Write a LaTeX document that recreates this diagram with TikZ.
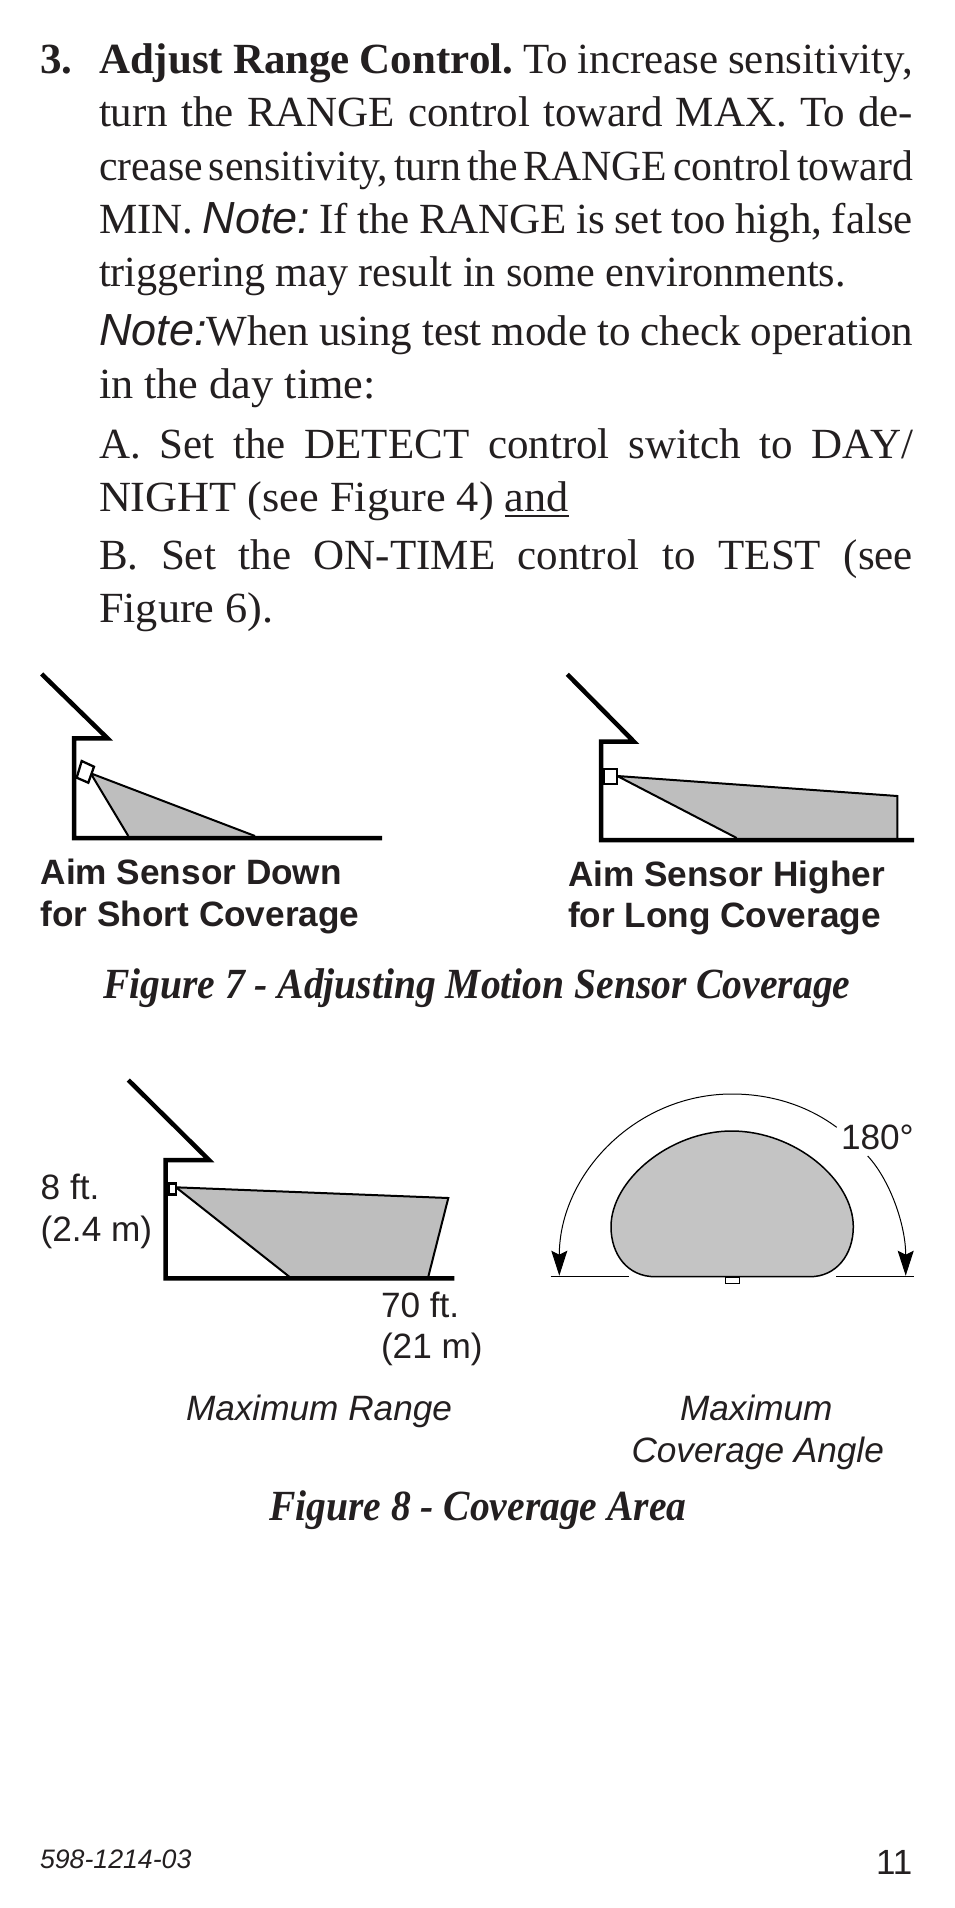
\documentclass[tikz,border=0pt]{standalone}
\usepackage{fontspec}
\setmainfont{Liberation Serif}
\setsansfont{Liberation Sans}
\usetikzlibrary{arrows.meta}
\definecolor{beamgray}{HTML}{BEBEBE}
\definecolor{blobgray}{HTML}{C4C4C4}
\definecolor{ink}{HTML}{231F20}
\newcommand{\bodyfont}{\fontsize{43}{50}\selectfont\frenchspacing}
\newcommand{\sansfont}{\fontsize{35.2}{40}\selectfont\sffamily}
\newcommand{\noteword}{{\sffamily\itshape\fontsize{45}{50}\selectfont Note:}}
\newcommand{\ulword}[1]{\setbox0\hbox{#1}\rlap{\rule[-6pt]{\wd0}{2pt}}#1}
\newcommand{\just}[1]{\makebox[814pt][s]{\spaceskip=.25em plus 1em minus .25em\relax #1}}
\newcommand{\stretched}[1]{\addfontfeature{FakeStretch=#1}}
\tikzset{
  x=1pt,y=-1pt,
  txt/.style={anchor=base west,inner sep=0pt,outer sep=0pt,text=ink},
  body/.style={txt,font=\bodyfont},
  sanslabel/.style={txt,font=\sansfont},
  sansbold/.style={txt,font=\sansfont\bfseries},
  sansital/.style={txt,font=\sansfont\itshape},
  figcap/.style={txt,font=\bodyfont\bfseries\itshape\stretched{.92}},
  wall/.style={line width=4.5pt,miter limit=10,draw=black},
  sensor/.style={line width=2.3pt,draw=black,fill=white},
  thinline/.style={line width=1pt,draw=black},
  bigtip/.style={-{Stealth[length=25pt,width=16pt,inset=4pt]}}
}
\begin{document}
\begin{tikzpicture}
\useasboundingbox (0,0) rectangle (954,1908);
\fill[white] (0,0) rectangle (954,1908);
% body text
\node[body,font=\bodyfont\bfseries] (n3) at (40,74) {3.};
\node[body] (l1) at (99,74) {\just{\textbf{Adjust Range Control.} To increase sensitivity,}};
\node[body] (l2) at (99,127) {\just{turn the RANGE control toward MAX. To de-}};
\node[body] (l3) at (99,180) {\stretched{.97}\just{crease sensitivity, turn the RANGE control toward}};
\node[body] (l4) at (99,233) {\just{MIN. \noteword{} If the RANGE is set too high, false}};
\node[body] (l5) at (99,286) {\stretched{.98}triggering may result in some environments.};
\node[body] (l6) at (99,345) {\just{\noteword{}When using test mode to check operation}};
\node[body] (l7) at (99,398) {\stretched{1.03}in the day time:};
\node[body] (l8) at (99,458) {\just{A. Set the DETECT control switch to DAY/}};
\node[body] (l9) at (99,511) {\stretched{1.03}NIGHT (see Figure 4) \ulword{and}};
\node[body] (l10) at (99,569) {\just{B. Set the ON-TIME control to TEST (see}};
\node[body] (l11) at (99,622) {\stretched{1.03}Figure 6).};
% Figure 7 left
\fill[beamgray] (90.7,773.3) -- (128.3,836) -- (255,836) -- cycle;
\draw[line width=2pt] (128.3,836) -- (90.7,773.3) -- (255,836);
\draw[wall] (41.7,674) -- (107.5,738.3) -- (74,738.3) -- (74,838) -- (382,838);
\draw[sensor] (81.7,761) -- (94,766.7) -- (88.3,782.7) -- (76.7,777.7) -- cycle;
\node[sansbold] (a1) at (40.7,884) {Aim Sensor Down};
\node[sansbold] (a2) at (40.7,926) {for Short Coverage};
% Figure 7 right
\fill[beamgray] (617.3,776) -- (897.3,796) -- (897.3,838) -- (736.7,838) -- cycle;
\draw[line width=2pt] (736.7,838) -- (617.3,776) -- (897.3,796) -- (897.3,840);
\draw[wall] (567.3,674.3) -- (634,741.7) -- (601,741.7) -- (601,840) -- (914,840);
\draw[sensor] (604.3,768.7) rectangle (616.7,784.3);
\node[sansbold] (b1) at (568,886.7) {Aim Sensor Higher};
\node[sansbold] (b2) at (568,927.7) {for Long Coverage};
\node[figcap] (c7) at (103,998) {Figure 7 - Adjusting Motion Sensor Coverage};
% Figure 8 left
\fill[beamgray] (176,1187.3) -- (448.3,1198) -- (428.3,1276.7) -- (289.3,1276.7) -- cycle;
\draw[line width=2pt] (289.3,1276.7) -- (176,1187.3) -- (448.3,1198) -- (428.3,1276.7);
\draw[wall] (128.3,1080) -- (209,1160) -- (165.7,1160) -- (165.7,1278.3) -- (454.3,1278.3);
\draw[sensor] (168.5,1183.5) rectangle (176,1194.5);
\node[sanslabel] (h1) at (40.7,1199) {8 ft.};
\node[sanslabel] (h2) at (40.7,1241) {(2.4 m)};
\node[sanslabel] (r1) at (381,1317.7) {70 ft.};
\node[sanslabel] (r2) at (381,1358.7) {(21 m)};
% Figure 8 right
\draw[line width=1.5pt,fill=blobgray] (655,1276.7) .. controls (628,1276.7) and (611,1255) .. (611,1226.7)
  .. controls (611,1180) and (670,1131) .. (731.7,1131)
  .. controls (795,1131) and (853.3,1180) .. (853.3,1226.7)
  .. controls (853.3,1255) and (836,1276.7) .. (810,1276.7) -- cycle;
\draw[thinline] (550.7,1276.7) -- (629,1276.7);
\draw[thinline] (836,1276.4) -- (914,1276.4);
\draw[sensor,line width=1pt] (725.7,1277) rectangle (739.3,1283.3);
\draw[thinline,bigtip] (836.7,1127.3) .. controls (808,1106) and (772,1094) .. (732,1094)
  .. controls (635,1094) and (559.3,1175) .. (559.3,1275.7);
\draw[thinline,bigtip] (867.7,1156) .. controls (890,1180) and (905.7,1225) .. (905.7,1275.7);
\node[sanslabel] (ang) at (841,1149) {180°};
\node[sansital] (m1) at (186,1420.3) {Maximum Range};
\node[sansital] (m2) at (680,1420.3) {Maximum};
\node[sansital] (m3) at (631.5,1462.7) {Coverage Angle};
\node[figcap] (c8) at (269,1520) {Figure 8 - Coverage Area};
% footer
\node[txt,font=\fontsize{26.7}{30}\selectfont\sffamily\itshape] (f1) at (40,1868) {598-1214-03};
\node[txt,font=\fontsize{35}{40}\selectfont\sffamily] (f2) at (876,1874) {11};
\end{tikzpicture}
\end{document}
